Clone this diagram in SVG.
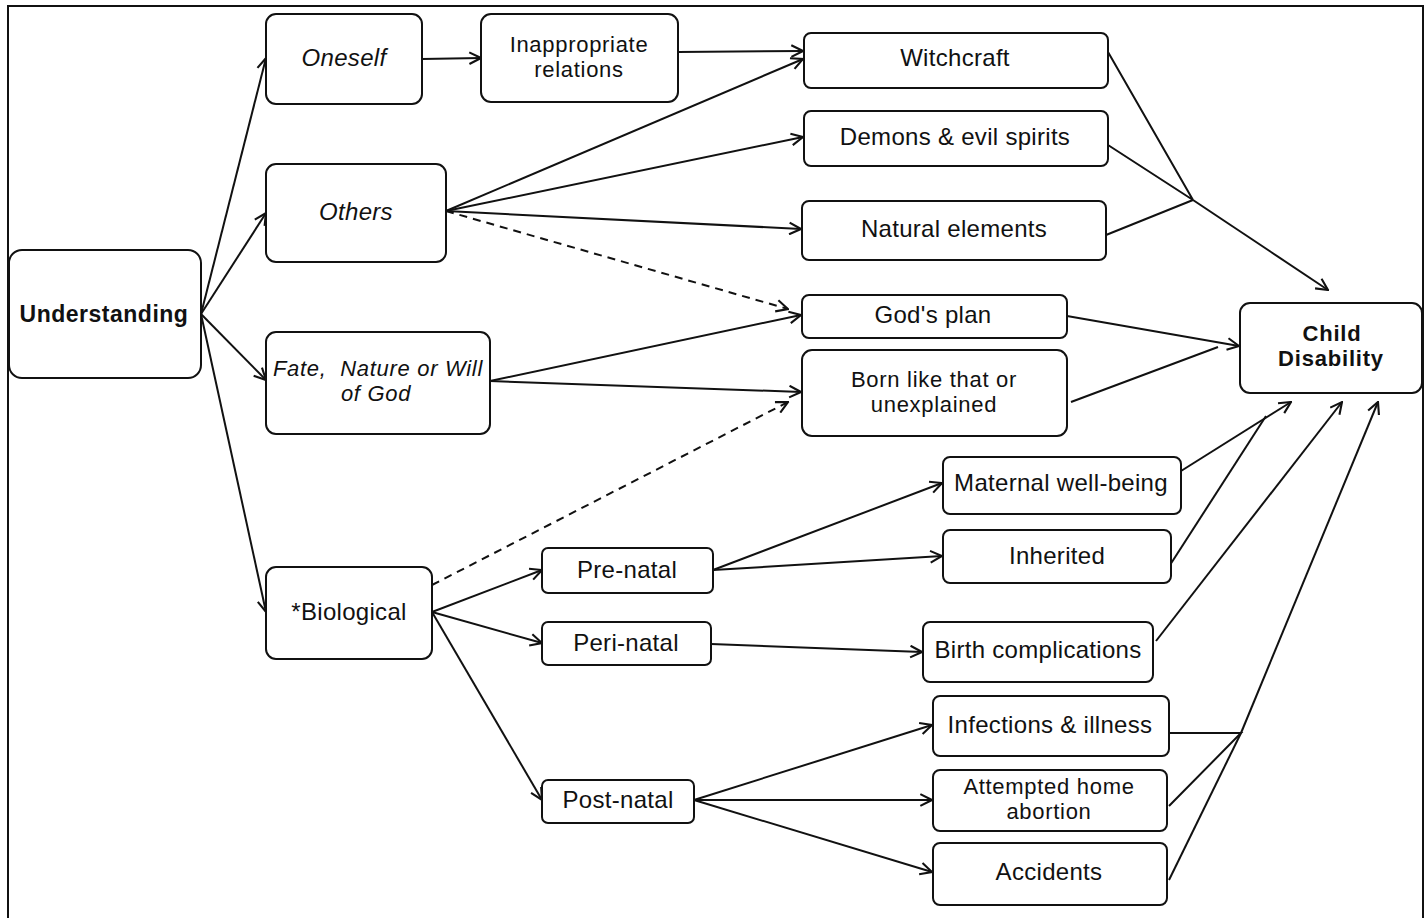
<svg xmlns="http://www.w3.org/2000/svg" width="1427" height="918" viewBox="0 0 1427 918">
<style>
.box{fill:#fff;stroke:#111;stroke-width:2}
.t{font-family:"Liberation Sans",Arial,sans-serif;font-size:24px;letter-spacing:0.3px;fill:#111;text-anchor:middle}
.m{font-size:22px;letter-spacing:0.7px}
.i{font-style:italic}
.b{font-weight:bold;font-size:23px;letter-spacing:0.5px}
.b2{font-weight:bold;font-size:22px;letter-spacing:0.8px}
.c{fill:none;stroke:#111;stroke-width:2}
.a{marker-end:url(#arr)}
.d{stroke-dasharray:8 6}
</style>
<defs>
<marker id="arr" viewBox="0 0 12 12" refX="11" refY="6" markerWidth="14" markerHeight="14" markerUnits="userSpaceOnUse" orient="auto">
<path d="M1,1 L11,6 L1,11" fill="none" stroke="#111" stroke-width="1.8"/>
</marker>
</defs>
<rect width="1427" height="918" fill="#fff"/>
<path d="M8,918 V6 H1423 V918" fill="none" stroke="#111" stroke-width="2"/>
<g id="connectors">
<line class="c a" x1="201" y1="314" x2="266" y2="58"/>
<line class="c a" x1="201" y1="314" x2="266" y2="213"/>
<line class="c a" x1="201" y1="314" x2="266" y2="380"/>
<line class="c a" x1="201" y1="314" x2="266" y2="612"/>
<line class="c a" x1="422" y1="59" x2="481" y2="58"/>
<line class="c a" x1="678" y1="52" x2="803" y2="51"/>
<line class="c a" x1="446" y1="211" x2="803" y2="59"/>
<line class="c a" x1="446" y1="211" x2="803" y2="137"/>
<line class="c a" x1="446" y1="211" x2="801" y2="229"/>
<line class="c a d" x1="446" y1="211" x2="788" y2="309"/>
<line class="c a" x1="490" y1="381" x2="801" y2="315"/>
<line class="c a" x1="490" y1="381" x2="801" y2="392"/>
<line class="c a d" x1="432" y1="585" x2="788" y2="402"/>
<line class="c a" x1="432" y1="612" x2="542" y2="570"/>
<line class="c a" x1="432" y1="612" x2="542" y2="643"/>
<line class="c a" x1="432" y1="612" x2="542" y2="800"/>
<line class="c a" x1="713" y1="570" x2="942" y2="483"/>
<line class="c a" x1="713" y1="570" x2="942" y2="556"/>
<line class="c a" x1="711" y1="644" x2="922" y2="652"/>
<line class="c a" x1="694" y1="800" x2="932" y2="725"/>
<line class="c a" x1="694" y1="800" x2="932" y2="800"/>
<line class="c a" x1="694" y1="800" x2="932" y2="872"/>
<polyline class="c" points="1108,52 1193,200 1108,145"/>
<line class="c" x1="1106" y1="235" x2="1193" y2="200"/>
<line class="c a" x1="1193" y1="200" x2="1328" y2="290"/>
<line class="c a" x1="1067" y1="316" x2="1239" y2="346"/>
<line class="c" x1="1071" y1="402" x2="1218" y2="347"/>
<line class="c a" x1="1181" y1="471" x2="1291" y2="402"/>
<line class="c" x1="1170" y1="565" x2="1266" y2="416"/>
<line class="c a" x1="1156" y1="641" x2="1342" y2="402"/>
<polyline class="c" points="1169,733 1241,733 1169,806"/>
<line class="c" x1="1169" y1="880" x2="1241" y2="733"/>
<line class="c a" x1="1241" y1="733" x2="1378" y2="402"/>
</g>
<g id="n-understanding"><rect class="box" x="9" y="250" width="192" height="128" rx="13"/><text class="t b" x="104" y="322">Understanding</text></g>
<g id="n-oneself"><rect class="box" x="266" y="14" width="156" height="90" rx="10"/><text class="t i" x="344" y="66">Oneself</text></g>
<g id="n-others"><rect class="box" x="266" y="164" width="180" height="98" rx="10"/><text class="t i" x="356" y="220">Others</text></g>
<g id="n-fate"><rect class="box" x="266" y="332" width="224" height="102" rx="10"/><text class="t m i" x="378" y="376" xml:space="preserve">Fate,  Nature or Will</text><text class="t m i" x="376" y="401">of God</text></g>
<g id="n-biological"><rect class="box" x="266" y="567" width="166" height="92" rx="10"/><text class="t" x="349" y="620">*Biological</text></g>
<g id="n-inappropriate"><rect class="box" x="481" y="14" width="197" height="88" rx="10"/><text class="t m" x="579" y="52">Inappropriate</text><text class="t m" x="579" y="77">relations</text></g>
<g id="n-witchcraft"><rect class="box" x="804" y="33" width="304" height="55" rx="7"/><text class="t" x="955" y="66">Witchcraft</text></g>
<g id="n-demons"><rect class="box" x="804" y="111" width="304" height="55" rx="7"/><text class="t" x="955" y="145">Demons &amp; evil spirits</text></g>
<g id="n-natural"><rect class="box" x="802" y="201" width="304" height="59" rx="7"/><text class="t" x="954" y="237">Natural elements</text></g>
<g id="n-godsplan"><rect class="box" x="802" y="295" width="265" height="43" rx="7"/><text class="t" x="933" y="323">God's plan</text></g>
<g id="n-born"><rect class="box" x="802" y="350" width="265" height="86" rx="10"/><text class="t m" x="934" y="387">Born like that or</text><text class="t m" x="934" y="412">unexplained</text></g>
<g id="n-child"><rect class="box" x="1240" y="303" width="182" height="90" rx="10"/><text class="t b2" x="1332" y="341">Child</text><text class="t b2" x="1331" y="366">Disability</text></g>
<g id="n-maternal"><rect class="box" x="943" y="457" width="238" height="57" rx="7"/><text class="t" x="1061" y="491">Maternal well-being</text></g>
<g id="n-inherited"><rect class="box" x="943" y="530" width="228" height="53" rx="7"/><text class="t" x="1057" y="564">Inherited</text></g>
<g id="n-prenatal"><rect class="box" x="542" y="548" width="171" height="45" rx="6"/><text class="t" x="627" y="578">Pre-natal</text></g>
<g id="n-perinatal"><rect class="box" x="542" y="622" width="169" height="43" rx="6"/><text class="t" x="626" y="651">Peri-natal</text></g>
<g id="n-postnatal"><rect class="box" x="542" y="780" width="152" height="43" rx="6"/><text class="t" x="618" y="808">Post-natal</text></g>
<g id="n-birth"><rect class="box" x="923" y="622" width="230" height="60" rx="7"/><text class="t" x="1038" y="658">Birth complications</text></g>
<g id="n-infections"><rect class="box" x="933" y="696" width="236" height="60" rx="7"/><text class="t" x="1050" y="733">Infections &amp; illness</text></g>
<g id="n-attempted"><rect class="box" x="933" y="770" width="234" height="61" rx="7"/><text class="t m" x="1049" y="794">Attempted home</text><text class="t m" x="1049" y="819">abortion</text></g>
<g id="n-accidents"><rect class="box" x="933" y="843" width="234" height="62" rx="7"/><text class="t" x="1049" y="880">Accidents</text></g>
</svg>
